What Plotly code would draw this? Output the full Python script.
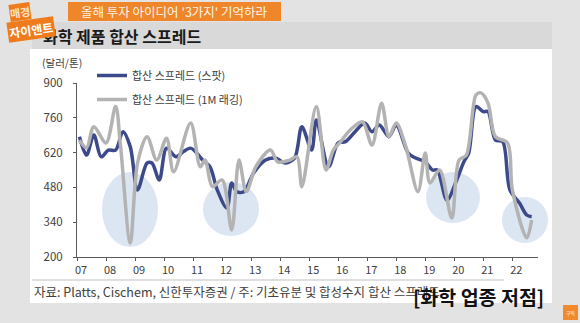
import plotly.graph_objects as go

# ---- data ----
spot_dates = ["2007-02","2007-05","2007-08","2007-11","2008-02","2008-05","2008-08","2008-11",
              "2009-02","2009-06","2009-08","2009-11","2010-02","2010-06","2010-09","2010-12",
              "2011-02","2011-05","2011-08","2011-11","2012-03","2012-05","2012-07","2012-10",
              "2013-02","2013-07","2013-11","2014-03","2014-07","2014-10","2015-02","2015-04",
              "2015-09","2016-01","2016-04","2016-08","2016-12","2017-03","2017-06","2017-10",
              "2018-01","2018-06","2018-09","2019-01","2019-04","2019-06","2019-10","2020-02",
              "2020-05","2020-07","2020-10","2021-01","2021-03","2021-06","2021-09","2021-12",
              "2022-04","2022-07","2022-09"]
spot_values = [684,610,691,603,630,630,704,644,
               470,578,578,510,638,603,624,638,
               624,590,563,470,397,498,463,463,
               538,590,598,578,598,724,630,751,
               563,659,664,704,739,704,731,684,
               731,618,598,583,550,550,429,510,
               583,618,805,785,785,671,664,470,
               417,369,362]

lag_dates = ["2007-02","2007-05","2007-08","2008-01","2008-05","2008-07","2008-11","2009-02",
             "2009-06","2009-10","2010-02","2010-05","2010-12","2011-04","2011-06","2011-09",
             "2012-01","2012-05","2012-08","2012-11","2013-03","2013-09","2013-12","2014-05",
             "2014-08","2014-10","2015-04","2015-08","2015-11","2016-02","2016-06","2016-11",
             "2017-03","2017-07","2017-10","2018-01","2018-05","2018-10","2019-01","2019-03",
             "2019-07","2019-12","2020-03","2020-06","2020-10","2020-12","2021-03","2021-06",
             "2021-11","2022-01","2022-07","2022-09"]
lag_values = [670,640,724,659,805,650,256,578,
              684,590,678,543,739,563,590,483,
              510,309,590,463,563,630,583,590,
              603,483,805,550,630,664,711,744,
              650,819,684,739,644,463,618,498,
              550,357,590,610,852,860,819,684,
              659,470,277,349]

year_ticks = [f"{y}-01-01" for y in range(2007, 2023)]
year_labels = ["07","08","09","10","11","12","13","14","15","16","17","18","19","20","21","22"]
y_ticks = [200, 340, 480, 620, 760, 900]

series_names = ["합산 스프레드 (스팟)", "합산 스프레드 (1M 래깅)"]

FONT = "Noto Sans CJK KR"
W, H = 580, 323
L, R, T, B = 77, 42, 83, 66
PW, PH = W - L - R, H - T - B


def px(x):
    return (x - L) / PW


def py(y):
    return (H - B - y) / PH


fig = go.Figure()
fig.add_trace(go.Scatter(x=spot_dates, y=spot_values, name=series_names[0], mode="lines",
                         line=dict(color="#3c4a8b", width=3.5, shape="spline", smoothing=0.9),
                         legendgroup="a"))
fig.add_trace(go.Scatter(x=lag_dates, y=lag_values, name=series_names[1], mode="lines",
                         line=dict(color="#b3b3b3", width=3.5, shape="spline", smoothing=0.9),
                         legendgroup="b"))

shapes = []
# white panel
shapes.append(dict(type="rect", xref="paper", yref="paper", x0=px(30), x1=px(552), y0=py(303), y1=py(49),
                   fillcolor="white", line_width=0, layer="below"))
# grey title bar
shapes.append(dict(type="rect", xref="paper", yref="paper", x0=px(32), x1=px(552), y0=py(49), y1=py(22),
                   fillcolor="#d9d9d9", line_width=0, layer="below"))
# orange banner
shapes.append(dict(type="rect", xref="paper", yref="paper", x0=px(68), x1=px(281), y0=py(21), y1=py(2),
                   fillcolor="#f0862a", line_width=0, layer="below"))
# separator line above source
shapes.append(dict(type="line", xref="paper", yref="paper", x0=px(32), x1=px(504), y0=py(280), y1=py(280),
                   line=dict(color="#bfbfbf", width=1)))
# highlight ellipses
for (x0, x1, y0, y1) in [(102, 158, 172, 247), (203, 259, 182, 236), (426, 480, 172, 223), (502, 548, 197, 243)]:
    shapes.append(dict(type="circle", xref="paper", yref="paper", x0=px(x0), x1=px(x1), y0=py(y1), y1=py(y0),
                       fillcolor="#dce6f3", line_width=0, layer="below"))
# subscribe badge
shapes.append(dict(type="rect", xref="paper", yref="paper", x0=px(563), x1=px(578), y0=py(320), y1=py(305),
                   fillcolor="#f08a2c", line_width=0, layer="below"))

ann = []
ann.append(dict(text="<b>화학 제품 합산 스프레드</b>", x=px(41), y=py(36), xref="paper", yref="paper",
                xanchor="left", yanchor="middle", showarrow=False,
                font=dict(family=FONT, size=16, color="#1a1a1a")))
ann.append(dict(text="올해 투자 아이디어 '3가지' 기억하라", x=px(174), y=py(11.5), xref="paper", yref="paper",
                xanchor="center", yanchor="middle", showarrow=False,
                font=dict(family=FONT, size=12.5, color="#fff4e8")))
ann.append(dict(text="<b>매경</b>", x=px(20), y=py(12), xref="paper", yref="paper",
                xanchor="center", yanchor="middle", showarrow=False, textangle=-8,
                bgcolor="#ee7c1c", borderpad=0,
                font=dict(family=FONT, size=11, color="#fde3c8")))
ann.append(dict(text="<b>자이앤트</b>", x=px(31), y=py(29), xref="paper", yref="paper",
                xanchor="center", yanchor="middle", showarrow=False, textangle=-8,
                bgcolor="#ee7c1c", borderpad=1,
                font=dict(family=FONT, size=12, color="white")))
ann.append(dict(text="(달러/톤)", x=px(40), y=py(62), xref="paper", yref="paper",
                xanchor="left", yanchor="middle", showarrow=False,
                font=dict(family=FONT, size=10.5, color="#404040")))
ann.append(dict(text="자료: Platts, Cischem, 신한투자증권 / 주: 기초유분 및 합성수지 합산 스프레드",
                x=px(32), y=py(291), xref="paper", yref="paper",
                xanchor="left", yanchor="middle", showarrow=False,
                font=dict(family=FONT, size=12.5, color="#404040")))
ann.append(dict(text="<b>[화학 업종 저점]</b>", x=px(546), y=py(296), xref="paper", yref="paper",
                xanchor="right", yanchor="middle", showarrow=False,
                font=dict(family=FONT, size=19.5, color="#111111")))
ann.append(dict(text="구독", x=px(570.5), y=py(312.5), xref="paper", yref="paper",
                xanchor="center", yanchor="middle", showarrow=False,
                font=dict(family=FONT, size=5, color="white")))

fig.update_layout(
    width=W, height=H,
    margin=dict(l=L, r=R, t=T, b=B),
    paper_bgcolor="#e3e3e3",
    plot_bgcolor="rgba(0,0,0,0)",
    font=dict(family=FONT, color="#404040"),
    showlegend=True,
    legend=dict(x=px(92), y=py(61), xanchor="left", yanchor="top",
                bgcolor="rgba(0,0,0,0)", tracegroupgap=5,
                font=dict(family=FONT, size=11, color="#404040"),
                itemwidth=30),
    shapes=shapes,
    annotations=ann,
    xaxis=dict(type="date", range=["2007-01-01", "2022-11-20"],
               tickvals=year_ticks, ticktext=year_labels, ticklabelshift=4,
               showgrid=False, zeroline=False, showline=True, linecolor="#595959", linewidth=1,
               ticks="outside", ticklen=3, tickcolor="#595959",
               tickfont=dict(family=FONT, size=11, color="#404040")),
    yaxis=dict(range=[200, 900], tickvals=y_ticks, showgrid=False, zeroline=False,
               showline=True, linecolor="#595959", linewidth=1,
               ticks="outside", ticklen=3, tickcolor="#595959", ticklabelstandoff=8,
               tickfont=dict(family=FONT, size=11.5, color="#404040")),
)

fig.write_html("out.html")
